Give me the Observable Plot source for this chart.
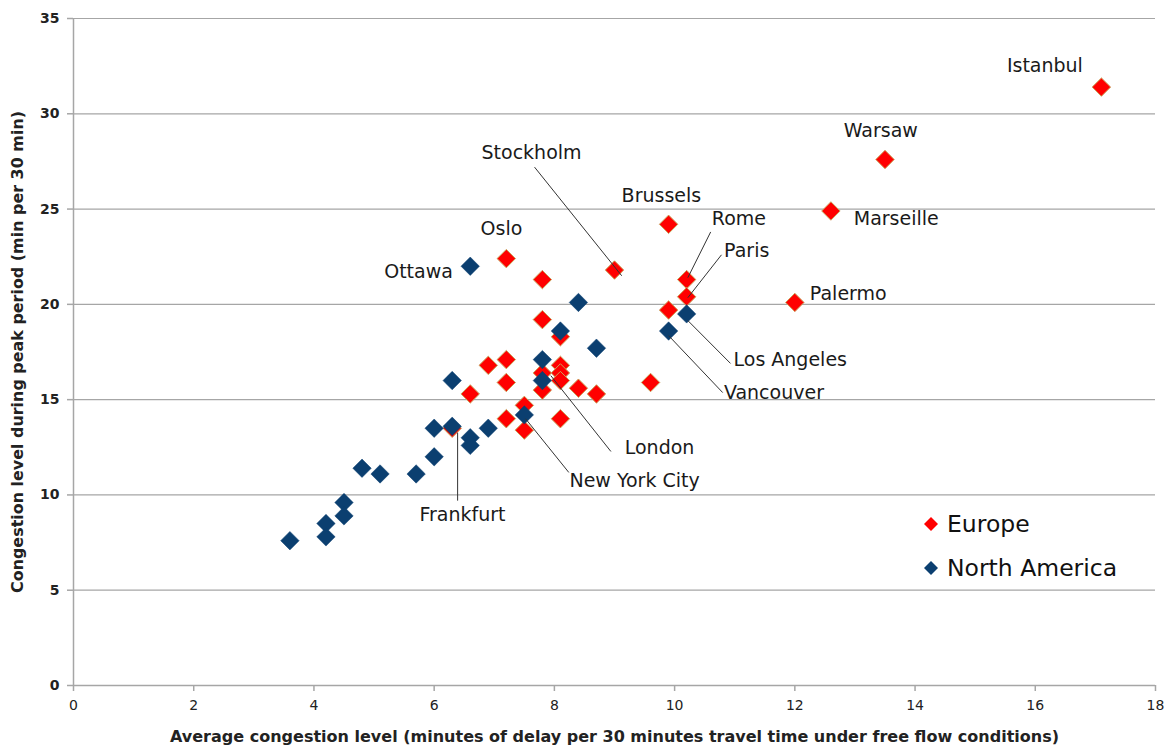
<!DOCTYPE html>
<html><head><meta charset="utf-8">
<script src="https://cdn.jsdelivr.net/npm/d3@7"></script>
<script src="https://cdn.jsdelivr.net/npm/@observablehq/plot@0.6"></script>
<style>
body{margin:0;background:#fff;}
#chart{position:relative;width:1169px;height:749px;overflow:hidden;}
#legend{position:absolute;left:923px;top:502px;font-family:"DejaVu Sans",sans-serif;font-size:23.5px;color:#111;line-height:44px;}
#legend .item{display:flex;align-items:center;}
#legend svg{margin-right:8px;}
</style></head><body><div id="chart"></div>
<script>
// ---- data ----
const seriesNames = ["Europe", "North America"];
const seriesColors = ["#ff0000", "#0b3f70"];
const xTicks = [0, 2, 4, 6, 8, 10, 12, 14, 16, 18];
const yTicks = [0, 5, 10, 15, 20, 25, 30, 35];

const europeCity = ["Istanbul","Warsaw","Marseille","Brussels","Palermo","Rome","Paris","Stockholm","Oslo","","","","","","","","","","","","London","","","","","","","","","Frankfurt"];
const europeX = [17.1, 13.5, 12.6, 9.9, 12.0, 10.2, 10.2, 9.0, 7.2, 7.8, 9.9, 7.8, 8.1, 6.9, 7.2, 7.2, 6.6, 8.1, 8.1, 8.1, 7.8, 7.8, 8.4, 8.7, 7.5, 7.2, 8.1, 7.5, 9.6, 6.3];
const europeY = [31.4, 27.6, 24.9, 24.2, 20.1, 21.3, 20.4, 21.8, 22.4, 21.3, 19.7, 19.2, 18.3, 16.8, 17.1, 15.9, 15.3, 16.8, 16.4, 16.0, 16.4, 15.5, 15.6, 15.3, 14.7, 14.0, 14.0, 13.4, 15.9, 13.5];

const naCity = ["Ottawa","","","","","","","New York City","","","","","","","","","","","","","","","Los Angeles","Vancouver"];
const naX = [6.6, 8.4, 8.1, 8.7, 7.8, 7.8, 6.3, 7.5, 6.0, 6.3, 6.9, 6.6, 6.6, 6.0, 4.8, 5.1, 5.7, 4.5, 4.5, 4.2, 4.2, 3.6, 10.2, 9.9];
const naY = [22.0, 20.1, 18.6, 17.7, 17.1, 16.0, 16.0, 14.2, 13.5, 13.6, 13.5, 13.0, 12.6, 12.0, 11.4, 11.1, 11.1, 9.6, 8.9, 8.5, 7.8, 7.6, 19.5, 18.6];

// city label annotations (label anchor in data units)
const labelText   = ["Istanbul","Warsaw","Marseille","Brussels","Rome","Paris","Palermo","Stockholm","Oslo","Ottawa","Los Angeles","Vancouver","London","New York City","Frankfurt"];
const labelX      = [16.16, 13.43, 12.98, 9.78, 11.07, 11.2, 12.25, 7.62, 7.12, 5.74, 10.98, 10.82, 9.17, 8.25, 6.47];
const labelY      = [32.5, 29.1, 24.5, 25.7, 24.5, 22.8, 20.57, 27.96, 23.98, 21.72, 17.1, 15.37, 12.49, 10.76, 8.97];
const labelAnchor = ["middle","middle","start","middle","middle","middle","start","middle","middle","middle","start","start","start","start","middle"];

// leader lines
const leaderX1 = [7.67, 10.6, 10.78, 10.93, 10.8, 8.94, 8.24, 6.39];
const leaderY1 = [27.2, 23.8, 22.6, 16.9, 15.37, 12.28, 11.18, 13.27];
const leaderX2 = [9.12, 10.22, 10.22, 10.22, 9.9, 7.94, 7.52, 6.39];
const leaderY2 = [21.5, 21.4, 20.35, 19.15, 18.36, 16.26, 14.0, 9.7];

const xTitle = "Average congestion level (minutes of delay per 30 minutes travel time under free flow conditions)";
const yTitle = "Congestion level during peak period (min per 30 min)";

// ---- tables ----
const europe = europeX.map((x, i) => ({x, y: europeY[i], city: europeCity[i]}));
const na = naX.map((x, i) => ({x, y: naY[i], city: naCity[i]}));
const labels = labelText.map((t, i) => ({t, x: labelX[i], y: labelY[i], a: labelAnchor[i]}));
const leaders = leaderX1.map((x1, i) => ({x1, y1: leaderY1[i], x2: leaderX2[i], y2: leaderY2[i]}));

const grid = "#a6a6a6";
const font = "DejaVu Sans, sans-serif";
const labelStyle = {x: "x", y: "y", text: "t", fontSize: 19, fill: "#1a1a1a", lineAnchor: "middle"};

const chart = Plot.plot({
  width: 1169, height: 749,
  marginLeft: 73, marginRight: 14, marginTop: 18, marginBottom: 64,
  x: {domain: [0, 18]},
  y: {domain: [0, 35]},
  style: {fontFamily: font, background: "#fff", color: "#222"},
  marks: [
    Plot.ruleY(yTicks.filter(d => d > 0), {stroke: grid, strokeWidth: 1.2}),
    Plot.ruleX([0], {stroke: grid, strokeWidth: 1.5}),
    Plot.ruleY([0], {stroke: grid, strokeWidth: 1.5}),
    Plot.axisY({ticks: yTicks, tickSize: 6, tickPadding: 8, stroke: grid, strokeWidth: 1.5, label: null, fontSize: 14, fontWeight: "bold", tickFormat: d => String(d)}),
    Plot.axisX({ticks: xTicks, tickSize: 6, tickPadding: 9, stroke: grid, strokeWidth: 1.5, label: null, fontSize: 14, tickFormat: d => String(d)}),
    Plot.text([xTitle], {frameAnchor: "bottom", dy: 52, fontSize: 15, fontWeight: "bold", fill: "#222", fontFamily: font, lineAnchor: "middle", text: d => d}),
    Plot.text([yTitle], {frameAnchor: "left", dx: -55, rotate: -90, textAnchor: "middle", fontSize: 15, fontWeight: "bold", fill: "#222", fontFamily: font, lineAnchor: "middle", text: d => d}),
    Plot.dot(europe, {x: "x", y: "y", symbol: "diamond2", r: 8.3, fill: seriesColors[0], stroke: "#c9a45c", strokeWidth: 1}),
    Plot.dot(na, {x: "x", y: "y", symbol: "diamond2", r: 8.3, fill: seriesColors[1], stroke: seriesColors[1], strokeWidth: 0.5}),
    Plot.link(leaders, {x1: "x1", y1: "y1", x2: "x2", y2: "y2", stroke: "#333", strokeWidth: 1}),
    Plot.text(labels.filter(d => d.a === "middle"), {...labelStyle, textAnchor: "middle"}),
    Plot.text(labels.filter(d => d.a === "start"), {...labelStyle, textAnchor: "start"})
  ]
});
// fit the two axis titles to the reference's lengths
chart.querySelectorAll("text").forEach(t => {
  if (t.textContent === xTitle) { t.setAttribute("textLength", 889); t.setAttribute("lengthAdjust", "spacingAndGlyphs"); }
  if (t.textContent === yTitle) { t.setAttribute("textLength", 482); t.setAttribute("lengthAdjust", "spacingAndGlyphs"); }
});
document.getElementById("chart").appendChild(chart);

// legend
const legend = document.createElement("div");
legend.id = "legend";
seriesNames.forEach((name, i) => {
  const item = document.createElement("div");
  item.className = "item";
  item.innerHTML = `<svg width="16" height="16" viewBox="-8 -8 16 16"><path d="M0,-7L7,0L0,7L-7,0Z" fill="${seriesColors[i]}"/></svg><span>${name}</span>`;
  legend.appendChild(item);
});
document.getElementById("chart").appendChild(legend);
</script>
</body></html>
